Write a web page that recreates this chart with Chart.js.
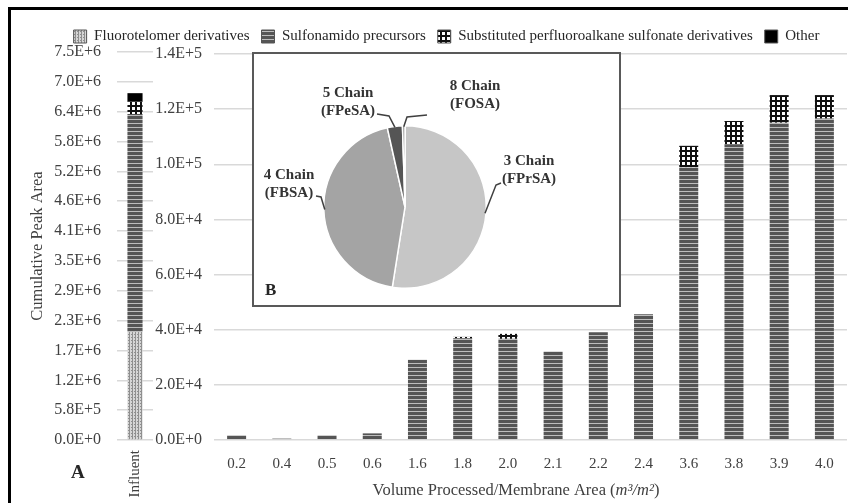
<!DOCTYPE html>
<html>
<head>
<meta charset="utf-8">
<script src="https://cdn.jsdelivr.net/npm/chart.js@4.4.1/dist/chart.umd.min.js"></script>
<style>
  html, body { margin: 0; padding: 0; background: #fff; overflow: hidden; }
  body { width: 848px; height: 503px; position: relative; font-family: 'Liberation Serif', serif; }
  canvas { position: absolute; }
  #mainChart { left: 0; top: 0; }
  #influentChart { left: 0; top: 0; }
  #inset { position: absolute; left: 252px; top: 52px; width: 369px; height: 255px; box-sizing: border-box; border: 2px solid #595959; background: #fff; }
  #pieChart { left: 252px; top: 52px; }
  #frame { position: absolute; left: 8px; top: 7px; width: 900px; height: 600px; border-top: 3px solid #000; border-left: 3px solid #000; pointer-events: none; }
  .panel { position: absolute; font-weight: bold; color: #262626; line-height: 1; }
</style>
</head>
<body>
<canvas id="mainChart" width="848" height="503"></canvas>
<canvas id="influentChart" width="153" height="503"></canvas>
<div id="inset"></div>
<canvas id="pieChart" width="369" height="255"></canvas>
<div class="panel" style="left:71px;top:462px;font-size:19px">A</div>
<div class="panel" style="left:265px;top:281px;font-size:17px">B</div>
<div id="frame"></div>
<script>
// Values
const categories = ['0.2', '0.4', '0.5', '0.6', '1.6', '1.8', '2.0', '2.1', '2.2', '2.4', '3.6', '3.8', '3.9', '4.0'];
const seriesNames = ['Fluorotelomer derivatives', 'Sulfonamido precursors', 'Substituted perfluoroalkane sulfonate derivatives', 'Other'];
const fluorotelomer = [0, 0, 0, 0, 0, 0, 0, 0, 0, 0, 0, 0, 0, 0];
const sulfonamido = [1700, 500, 1700, 2400, 29100, 36900, 36700, 32100, 39100, 45600, 98900, 107300, 115100, 116600];
const substituted = [0, 0, 0, 0, 0, 500, 1800, 0, 0, 0, 7800, 8400, 10000, 8500];
const other = [0, 0, 0, 0, 0, 0, 0, 0, 0, 0, 0, 0, 0, 0];

const influentLabel = ['Influent'];
const influentFluorotelomer = [2100000];
const influentSulfonamido = [4235000];
const influentSubstituted = [240000];
const influentOther = [165000];

const leftTickLabels = ['0.0E+0', '5.8E+5', '1.2E+6', '1.7E+6', '2.3E+6', '2.9E+6', '3.5E+6', '4.1E+6', '4.6E+6', '5.2E+6', '5.8E+6', '6.4E+6', '7.0E+6', '7.5E+6'];
const rightTickLabels = ['0.0E+0', '2.0E+4', '4.0E+4', '6.0E+4', '8.0E+4', '1.0E+5', '1.2E+5', '1.4E+5'];

const pieLabels = [['3 Chain', '(FPrSA)'], ['4 Chain', '(FBSA)'], ['5 Chain', '(FPeSA)'], ['8 Chain', '(FOSA)']];
const pieValues = [52.5, 44.0, 3.0, 0.5];

// Where the pie labels sit (canvas coords): text centre, leader start, leader elbow
const pieLabelLayout = [
    { x: 277, y: 118, sx: 249, sy: 131, ex: 244, ey: 133 },
    { x: 37, y: 132, sx: 64, sy: 144, ex: 69, ey: 145 },
    { x: 96, y: 50, sx: 125, sy: 62, ex: 137, ey: 64 },
    { x: 223, y: 43, sx: 175, sy: 63, ex: 155, ey: 65 }
];

const serif = 'Liberation Serif';
const textColor = '#404040';
const gridColor = '#d9d9d9';

// Fill patterns like the original hatching
function makePattern(w, h, draw) {
    const c = document.createElement('canvas');
    c.width = w;
    c.height = h;
    const g = c.getContext('2d');
    draw(g);
    return g.createPattern(c, 'repeat');
}

const dotted = makePattern(3, 3, g => {
    g.fillStyle = '#d6d6d6';
    g.fillRect(0, 0, 3, 3);
    g.fillStyle = '#8f8f8f';
    g.fillRect(0, 0, 1, 3);
    g.fillRect(2, 1, 1, 1);
});
const striped = makePattern(4, 4, g => {
    g.fillStyle = '#555555';
    g.fillRect(0, 0, 4, 4);
    g.fillStyle = '#bdbdbd';
    g.fillRect(0, 3, 4, 1);
});
const grid = makePattern(5, 5, g => {
    g.fillStyle = '#fff';
    g.fillRect(0, 0, 5, 5);
    g.fillStyle = '#111';
    g.fillRect(0, 0, 5, 2);
    g.fillRect(0, 0, 2, 5);
});
const fills = [dotted, striped, grid, '#000'];

function makeDatasets(seriesData, barPct) {
    return seriesNames.map((name, i) => ({
        label: name,
        data: seriesData[i],
        backgroundColor: fills[i],
        borderWidth: 0,
        barPercentage: barPct,
        categoryPercentage: 1
    }));
}

// x-axis title with italic units
const xTitlePlugin = {
    id: 'xTitle',
    afterDraw(chart) {
        const ctx = chart.ctx;
        const parts = [
            { text: 'Volume Processed/Membrane Area (', style: '' },
            { text: 'm³/m²', style: 'italic ' },
            { text: ')', style: '' }
        ];
        ctx.save();
        ctx.fillStyle = textColor;
        ctx.textBaseline = 'middle';
        ctx.textAlign = 'left';
        let total = 0;
        parts.forEach(p => {
            ctx.font = p.style + '16.5px "' + serif + '"';
            p.w = ctx.measureText(p.text).width;
            total += p.w;
        });
        let x = 516 - total / 2;
        parts.forEach(p => {
            ctx.font = p.style + '16.5px "' + serif + '"';
            ctx.fillText(p.text, x, 491);
            x += p.w;
        });
        ctx.restore();
    }
};

// Main chart: volume processed series
new Chart(document.getElementById('mainChart'), {
    type: 'bar',
    data: {
        labels: categories,
        datasets: makeDatasets([fluorotelomer, sulfonamido, substituted, other], 0.42)
    },
    options: {
        responsive: false,
        animation: false,
        layout: { padding: { left: 46, right: 1, top: 17, bottom: 0 } },
        plugins: {
            legend: {
                position: 'top',
                labels: {
                    font: { family: serif, size: 15 },
                    color: '#262626',
                    boxWidth: 13,
                    boxHeight: 13,
                    padding: 12,
                    generateLabels(chart) {
                        const items = Chart.defaults.plugins.legend.labels.generateLabels(chart);
                        items.forEach(it => {
                            it.lineWidth = 1;
                            it.strokeStyle = '#555';
                        });
                        return items;
                    }
                }
            },
            tooltip: { enabled: false }
        },
        scales: {
            x: {
                stacked: true,
                grid: { display: false },
                border: { display: false },
                ticks: { font: { family: serif, size: 15 }, color: textColor, padding: 7 },
                afterFit: s => { s.height = 63; }
            },
            y: {
                stacked: true,
                min: 0,
                max: 140000,
                ticks: {
                    stepSize: 20000,
                    callback: (v, i) => rightTickLabels[i],
                    font: { family: serif, size: 16 },
                    color: textColor,
                    padding: 12
                },
                grid: { color: gridColor, lineWidth: 1.5, drawTicks: false },
                border: { display: false },
                afterFit: s => { s.width = 168; }
            }
        }
    },
    plugins: [xTitlePlugin]
});

// Influent bar on its own scale
new Chart(document.getElementById('influentChart'), {
    type: 'bar',
    data: {
        labels: influentLabel,
        datasets: makeDatasets([influentFluorotelomer, influentSulfonamido, influentSubstituted, influentOther], 0.42)
    },
    options: {
        responsive: false,
        animation: false,
        layout: { padding: { left: 24, right: 0, top: 52, bottom: 0 } },
        plugins: { legend: { display: false }, tooltip: { enabled: false } },
        scales: {
            x: {
                stacked: true,
                grid: { display: false },
                border: { display: false },
                ticks: { font: { family: serif, size: 15 }, color: textColor, padding: 2, minRotation: 90, maxRotation: 90 },
                afterFit: s => {
                    s.height = 63;
                    s.paddingLeft = 0;
                    s.paddingRight = 0;
                }
            },
            y: {
                stacked: true,
                min: 0,
                max: 7540000,
                ticks: {
                    stepSize: 580000,
                    callback: (v, i) => leftTickLabels[i],
                    font: { family: serif, size: 16 },
                    color: textColor,
                    padding: 16
                },
                grid: { color: gridColor, lineWidth: 1.5, drawTicks: false },
                border: { display: false },
                title: {
                    display: true,
                    text: 'Cumulative Peak Area',
                    font: { family: serif, size: 16.5 },
                    color: textColor,
                    padding: 4
                },
                afterFit: s => { s.width = 93; }
            }
        }
    }
});

// Labels and leader lines for the inset pie
const pieLabelPlugin = {
    id: 'pieLabels',
    afterDraw(chart) {
        const ctx = chart.ctx;
        const arcs = chart.getDatasetMeta(0).data;
        ctx.save();
        ctx.strokeStyle = '#404040';
        ctx.lineWidth = 1.5;
        ctx.fillStyle = '#333';
        ctx.font = 'bold 15px "' + serif + '"';
        ctx.textAlign = 'center';
        ctx.textBaseline = 'middle';
        arcs.forEach((arc, i) => {
            const p = pieLabelLayout[i];
            const mid = (arc.startAngle + arc.endAngle) / 2;
            const ax = arc.x + Math.cos(mid) * (arc.outerRadius - 1);
            const ay = arc.y + Math.sin(mid) * (arc.outerRadius - 1);
            ctx.beginPath();
            ctx.moveTo(p.sx, p.sy);
            ctx.lineTo(p.ex, p.ey);
            ctx.lineTo(ax, ay);
            ctx.stroke();
            pieLabels[i].forEach((line, j) => {
                ctx.fillText(line, p.x, p.y - 9 + j * 18);
            });
        });
        ctx.restore();
    }
};

new Chart(document.getElementById('pieChart'), {
    type: 'pie',
    data: {
        labels: pieLabels.map(l => l.join(' ')),
        datasets: [{
            data: pieValues,
            backgroundColor: ['#c6c6c6', '#a4a4a4', '#555555', '#8a8a8a'],
            borderColor: '#fff',
            borderWidth: 1.5
        }]
    },
    options: {
        responsive: false,
        animation: false,
        layout: { padding: { left: 71, top: 73, right: 134, bottom: 18 } },
        plugins: { legend: { display: false }, tooltip: { enabled: false } }
    },
    plugins: [pieLabelPlugin]
});
</script>
</body>
</html>
